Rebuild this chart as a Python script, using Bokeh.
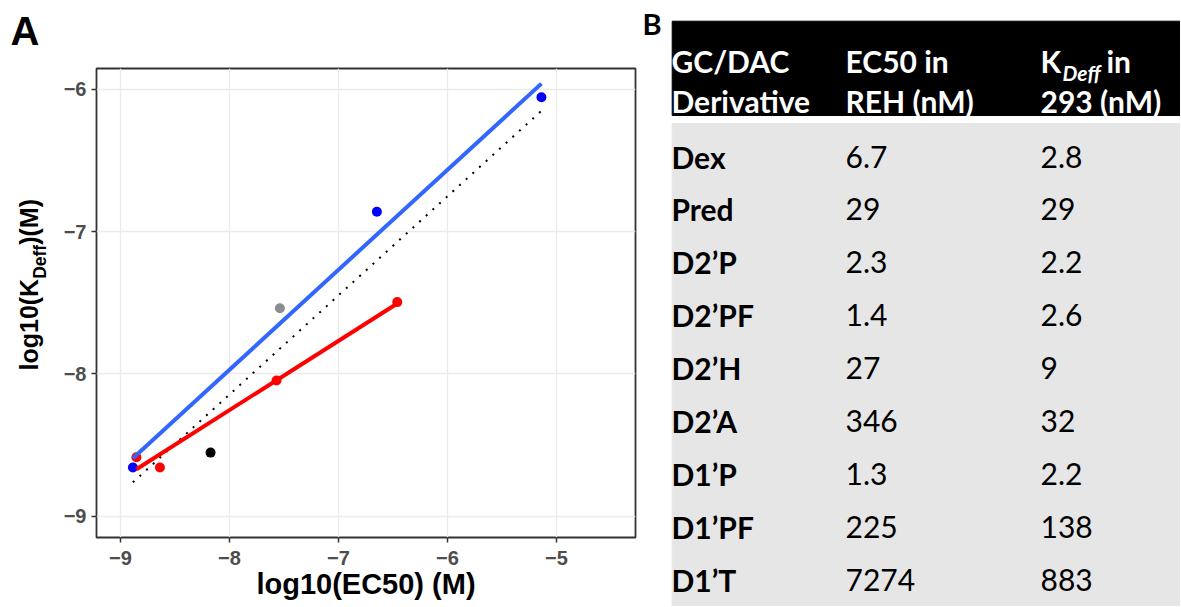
import numpy as np
from math import pi
from bokeh.plotting import figure
from bokeh.models import Range1d, FixedTicker, ColumnDataSource
from bokeh.layouts import row
from bokeh.core.properties import value
from bokeh.embed import file_html
from bokeh.resources import INLINE

# ---------------- data ----------------
derivatives = ["Dex", "Pred", "D2’P", "D2’PF", "D2’H", "D2’A", "D1’P", "D1’PF", "D1’T"]
ec50_nM = [6.7, 29, 2.3, 1.4, 27, 346, 1.3, 225, 7274]
kdeff_nM = [2.8, 29, 2.2, 2.6, 9, 32, 2.2, 138, 883]
groups = ["Dex", "Pred", "D2", "D2", "D2", "D2", "D1", "D1", "D1"]
group_colors = {"Dex": "#000000", "Pred": "#8c8c8c", "D2": "#ff0000", "D1": "#0000ff"}
x_ticks = [-9, -8, -7, -6, -5]
x_tick_labels = ["−9", "−8", "−7", "−6", "−5"]
y_ticks = [-9, -8, -7, -6]
y_tick_labels = ["−9", "−8", "−7", "−6"]
x_title = "log10(EC50) (M)"
y_title_parts = ["log10(K", "Deff", ")(M)"]
header_col1 = ["GC/DAC", "Derivative"]
header_col2 = ["EC50 in", "REH (nM)"]
header_col3 = ["K", "Deff", "in", "293 (nM)"]

# ---------------- layout constants ----------------
H = 606
AW, LW, RW = 54, 588, 538
BL, BR, BT, BB = 42, 7, 68, 69
XR = (-9.2202, -4.2752)
YR = (-9.1498, -5.8524)
K_LATO = 0.40   # baseline correction (fraction of font size)
K_LIB = 0.37

lx = np.log10(np.array(ec50_nM) * 1e-9)
ly = np.log10(np.array(kdeff_nM) * 1e-9)
grp = np.array(groups)


def clean(fig):
    fig.background_fill_color = "white"
    fig.border_fill_color = "white"
    fig.frame_align = False


# ---------------- strip with panel letter and y title ----------------
a = figure(width=AW, height=H, x_range=Range1d(0, AW), y_range=Range1d(0, H),
           toolbar_location=None, output_backend="svg", min_border=0,
           x_axis_location=None, y_axis_location=None)
clean(a)
a.grid.visible = False
a.outline_line_color = None
asz = 40
a.text(x=[10], y=[H - (45 - K_LIB * asz)], text=["A"], text_font=value("Liberation Sans"),
       text_font_style="bold", text_font_size=f"{asz}px", text_baseline="alphabetic",
       text_color="black")
ysz = 25
ssz = ysz * 0.7
w_main = 3.667 * ysz
w_sub = 1.944 * ssz
ystart = H - 370
a.text(x=[38 - K_LIB * ysz, 46 - K_LIB * ssz, 38 - K_LIB * ysz],
       y=[ystart, ystart + w_main, ystart + w_main + w_sub],
       text=y_title_parts, angle=pi / 2, text_font=value("Liberation Sans"),
       text_font_style="bold",
       text_font_size=[f"{ysz}px", f"{ssz:.1f}px", f"{ysz}px"],
       text_baseline="alphabetic", text_align="left", text_color="black")

# ---------------- scatter panel ----------------
src = ColumnDataSource(dict(x=lx, y=ly, c=[group_colors[g] for g in groups]))
p = figure(width=LW, height=H, x_range=Range1d(*XR), y_range=Range1d(*YR),
           toolbar_location=None, output_backend="svg",
           min_border_left=BL, min_border_right=BR, min_border_top=BT, min_border_bottom=BB)
clean(p)
p.outline_line_color = "#333333"
p.outline_line_width = 1.8

p.xaxis.ticker = FixedTicker(ticks=x_ticks)
p.yaxis.ticker = FixedTicker(ticks=y_ticks)
p.xaxis.major_label_overrides = {t: l for t, l in zip(x_ticks, x_tick_labels)}
p.yaxis.major_label_overrides = {t: l for t, l in zip(y_ticks, y_tick_labels)}
for ax in (p.xaxis, p.yaxis):
    ax.axis_line_color = None
    ax.major_tick_line_color = "#333333"
    ax.major_tick_line_width = 1.5
    ax.major_tick_out = 5
    ax.major_tick_in = 0
    ax.minor_tick_line_color = None
    ax.major_label_text_font = "Liberation Sans"
    ax.major_label_text_font_style = "bold"
    ax.major_label_text_font_size = "20px"
    ax.major_label_text_color = "#4d4d4d"
p.xaxis.major_label_standoff = 8
p.yaxis.major_label_standoff = 5
p.xaxis.axis_label = x_title
p.xaxis.axis_label_text_font = "Liberation Sans"
p.xaxis.axis_label_text_font_style = "bold"
p.xaxis.axis_label_text_font_size = "29px"
p.xaxis.axis_label_text_color = "#000000"
p.xaxis.axis_label_standoff = 0

p.xgrid.ticker = FixedTicker(ticks=x_ticks)
p.ygrid.ticker = FixedTicker(ticks=y_ticks)
p.grid.grid_line_color = "#ebebeb"
p.grid.grid_line_width = 1.3

p.scatter("x", "y", source=src, size=10, color="c", line_color=None)


def fit(mask):
    xs, ys = lx[mask], ly[mask]
    m, b = np.polyfit(xs, ys, 1)
    x0, x1 = xs.min(), xs.max()
    return [x0, x1], [m * x0 + b, m * x1 + b]


fxa, fya = fit(np.ones(len(lx), dtype=bool))
p.line(fxa, fya, line_color="black", line_width=2, line_dash="2 7")
fx1, fy1 = fit(grp == "D1")
p.line(fx1, fy1, line_color="#3366ff", line_width=4)
fx2, fy2 = fit(grp == "D2")
p.line(fx2, fy2, line_color="#ff0000", line_width=4)

# ---------------- table panel ----------------
q = figure(width=RW, height=H, x_range=Range1d(0, RW), y_range=Range1d(H, 0),
           toolbar_location=None, output_backend="svg", min_border=0,
           x_axis_location=None, y_axis_location=None)
clean(q)
q.grid.visible = False
q.outline_line_color = None

q.quad(left=[29.7], right=[RW + 5], top=[20.7], bottom=[115], color="black")
q.quad(left=[29.7], right=[RW + 5], top=[123], bottom=[H + 5], color="#e6e6e6")

COLX = [29, 203, 398]
FSN = 30
FS = f"{FSN}px"
font = value("Lato")


def bl(y, size=FSN):
    return y - K_LATO * size


q.text(x=[0], y=[bl(35, 29)], text=["B"], text_font=font, text_font_style="bold",
       text_font_size="29px", text_baseline="alphabetic", text_color="black")

hx = [COLX[0]] * 2 + [COLX[1]] * 2 + [COLX[2], COLX[2] + 66, COLX[2]]
hy = [bl(v) for v in [72, 112, 72, 112, 72, 72, 112]]
ht = header_col1 + header_col2 + [header_col3[0], header_col3[2], header_col3[3]]
q.text(x=hx, y=hy, text=ht, text_font=font, text_font_style="bold", text_font_size=FS,
       text_baseline="alphabetic", text_color="white")
q.text(x=[COLX[2] + 22], y=[bl(80, 21)], text=[header_col3[1]], text_font=font,
       text_font_style="bold italic", text_font_size="21px",
       text_baseline="alphabetic", text_color="white")

rows_y = [bl(168 + 52.9 * i) for i in range(len(derivatives))]
tsrc = ColumnDataSource(dict(y=rows_y, name=derivatives,
                             ec=[f"{v:g}" for v in ec50_nM],
                             kd=[f"{v:g}" for v in kdeff_nM]))
q.text(x=COLX[0], y="y", text="name", source=tsrc, text_font=font, text_font_style="bold",
       text_font_size=FS, text_baseline="alphabetic", text_color="black")
q.text(x=COLX[1], y="y", text="ec", source=tsrc, text_font=font,
       text_font_size=FS, text_baseline="alphabetic", text_color="black")
q.text(x=COLX[2], y="y", text="kd", source=tsrc, text_font=font,
       text_font_size=FS, text_baseline="alphabetic", text_color="black")

layout = row(a, p, q, spacing=0)
open("out.html", "w").write(file_html(layout, INLINE))
